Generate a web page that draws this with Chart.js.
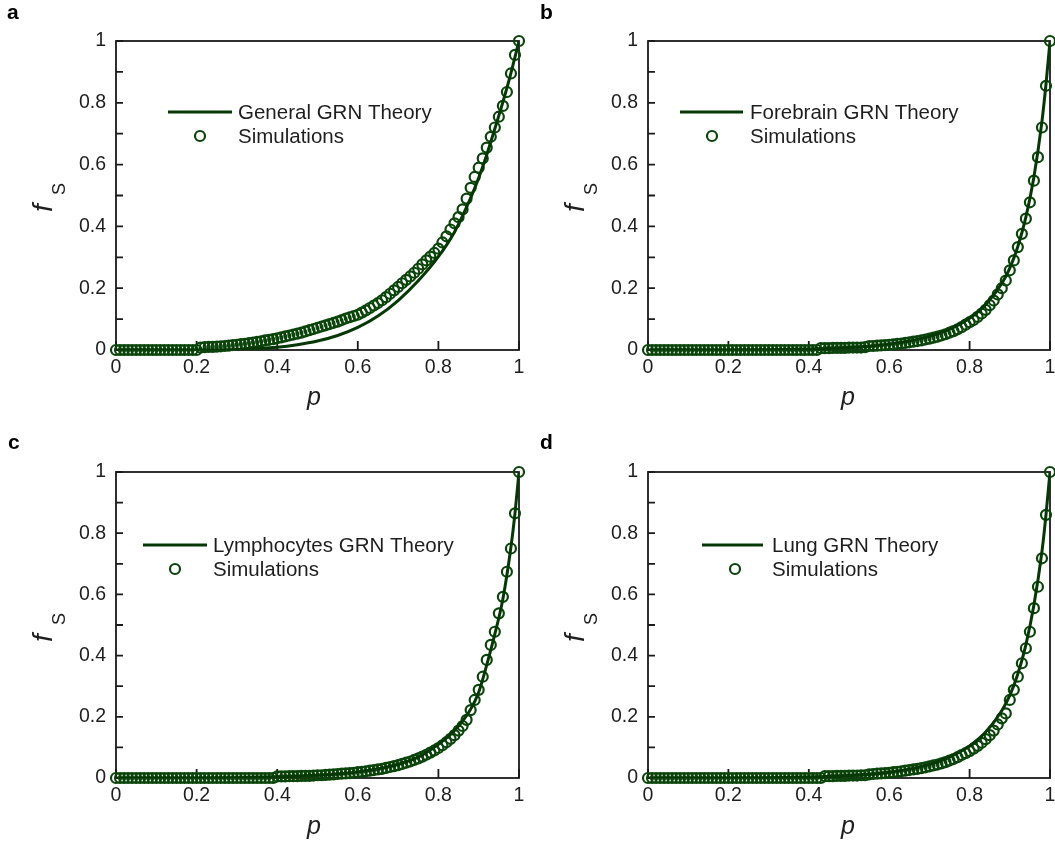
<!DOCTYPE html>
<html>
<head>
<meta charset="utf-8">
<script src="https://cdn.jsdelivr.net/npm/chart.js@4/dist/chart.umd.min.js"></script>
<style>
  html, body { margin: 0; padding: 0; background: #fff; }
  #fig { position: relative; width: 1055px; height: 846px; overflow: hidden; background: #fff; }
  #fig canvas { position: absolute; }
</style>
</head>
<body>
<div id="fig">
  <canvas id="pa" width="527" height="423" style="left:0;top:0"></canvas>
  <canvas id="pb" width="528" height="423" style="left:527px;top:0"></canvas>
  <canvas id="pc" width="527" height="423" style="left:0;top:423px"></canvas>
  <canvas id="pd" width="528" height="423" style="left:527px;top:423px"></canvas>
</div>
<script>
// Fraction of surviving states f_S versus p: theory curves and simulation runs.

// Simulation grid of p values
const pSim = [
  0.00, 0.01, 0.02, 0.03, 0.04, 0.05, 0.06, 0.07, 0.08, 0.09,
  0.10, 0.11, 0.12, 0.13, 0.14, 0.15, 0.16, 0.17, 0.18, 0.19,
  0.20, 0.21, 0.22, 0.23, 0.24, 0.25, 0.26, 0.27, 0.28, 0.29,
  0.30, 0.31, 0.32, 0.33, 0.34, 0.35, 0.36, 0.37, 0.38, 0.39,
  0.40, 0.41, 0.42, 0.43, 0.44, 0.45, 0.46, 0.47, 0.48, 0.49,
  0.50, 0.51, 0.52, 0.53, 0.54, 0.55, 0.56, 0.57, 0.58, 0.59,
  0.60, 0.61, 0.62, 0.63, 0.64, 0.65, 0.66, 0.67, 0.68, 0.69,
  0.70, 0.71, 0.72, 0.73, 0.74, 0.75, 0.76, 0.77, 0.78, 0.79,
  0.80, 0.81, 0.82, 0.83, 0.84, 0.85, 0.86, 0.87, 0.88, 0.89,
  0.90, 0.91, 0.92, 0.93, 0.94, 0.95, 0.96, 0.97, 0.98, 0.99,
  1.00
];

// Simulations, general GRN
const simGeneral = [
  0, 0, 0, 0, 0, 0, 0, 0, 0, 0,
  0, 0, 0, 0, 0, 0, 0, 0, 0, 0,
  0, 0.008, 0.009, 0.010, 0.010, 0.011, 0.012, 0.013, 0.014, 0.016,
  0.017, 0.019, 0.020, 0.022, 0.024, 0.026, 0.028, 0.031, 0.033, 0.035,
  0.038, 0.041, 0.044, 0.047, 0.050, 0.053, 0.056, 0.060, 0.064, 0.068,
  0.072, 0.076, 0.080, 0.084, 0.088, 0.092, 0.097, 0.102, 0.106, 0.110,
  0.114, 0.121, 0.128, 0.136, 0.144, 0.152, 0.161, 0.171, 0.182, 0.193,
  0.204, 0.216, 0.227, 0.238, 0.250, 0.263, 0.277, 0.290, 0.302, 0.314,
  0.328, 0.348, 0.368, 0.390, 0.410, 0.430, 0.455, 0.490, 0.525, 0.560,
  0.590, 0.620, 0.655, 0.690, 0.720, 0.755, 0.790, 0.835, 0.895, 0.955,
  1.000
];

// Simulations, forebrain GRN
const simForebrain = [
  0, 0, 0, 0, 0, 0, 0, 0, 0, 0,
  0, 0, 0, 0, 0, 0, 0, 0, 0, 0,
  0, 0, 0, 0, 0, 0, 0, 0, 0, 0,
  0, 0, 0, 0, 0, 0, 0, 0, 0, 0,
  0, 0, 0, 0.006, 0.006, 0.006, 0.007, 0.007, 0.007, 0.007,
  0.008, 0.008, 0.008, 0.008, 0.009, 0.013, 0.013, 0.014, 0.015, 0.016,
  0.017, 0.018, 0.020, 0.021, 0.023, 0.025, 0.027, 0.029, 0.031, 0.034,
  0.037, 0.040, 0.043, 0.047, 0.051, 0.056, 0.061, 0.067, 0.074, 0.082,
  0.090, 0.097, 0.107, 0.118, 0.130, 0.145, 0.160, 0.180, 0.200, 0.225,
  0.258, 0.290, 0.333, 0.376, 0.425, 0.478, 0.548, 0.624, 0.720, 0.855,
  1.000
];

// Simulations, lymphocytes GRN
const simLymphocytes = [
  0, 0, 0, 0, 0, 0, 0, 0, 0, 0,
  0, 0, 0, 0, 0, 0, 0, 0, 0, 0,
  0, 0, 0, 0, 0, 0, 0, 0, 0, 0,
  0, 0, 0, 0, 0, 0, 0, 0, 0, 0,
  0.005, 0.005, 0.005, 0.006, 0.006, 0.006, 0.007, 0.007, 0.007, 0.008,
  0.009, 0.009, 0.010, 0.011, 0.012, 0.013, 0.014, 0.015, 0.016, 0.017,
  0.019, 0.020, 0.022, 0.024, 0.026, 0.028, 0.030, 0.033, 0.036, 0.039,
  0.042, 0.046, 0.050, 0.054, 0.059, 0.064, 0.070, 0.076, 0.083, 0.090,
  0.098, 0.107, 0.117, 0.128, 0.140, 0.155, 0.170, 0.190, 0.222, 0.255,
  0.288, 0.331, 0.386, 0.435, 0.478, 0.538, 0.592, 0.674, 0.750, 0.865,
  1.000
];

// Simulations, lung GRN
const simLung = [
  0, 0, 0, 0, 0, 0, 0, 0, 0, 0,
  0, 0, 0, 0, 0, 0, 0, 0, 0, 0,
  0, 0, 0, 0, 0, 0, 0, 0, 0, 0,
  0, 0, 0, 0, 0, 0, 0, 0, 0, 0,
  0, 0, 0, 0, 0.006, 0.006, 0.006, 0.007, 0.007, 0.007,
  0.008, 0.008, 0.008, 0.009, 0.009, 0.012, 0.013, 0.014, 0.015, 0.016,
  0.017, 0.019, 0.020, 0.022, 0.024, 0.026, 0.028, 0.030, 0.032, 0.035,
  0.038, 0.041, 0.044, 0.048, 0.052, 0.057, 0.062, 0.068, 0.075, 0.081,
  0.088, 0.096, 0.105, 0.115, 0.127, 0.140, 0.155, 0.175, 0.195, 0.211,
  0.255, 0.288, 0.331, 0.375, 0.424, 0.478, 0.555, 0.625, 0.718, 0.860,
  1.000
];

// Theory curves, sampled on a coarser p grid
const pTheory = [0, 0.1, 0.2, 0.3, 0.4, 0.45, 0.5, 0.55, 0.6, 0.65, 0.7, 0.75, 0.8, 0.84, 0.88, 0.9, 0.92, 0.94, 0.96, 0.98, 0.99, 1];
const theoryGeneral     = [0, 0, 0, 0.002, 0.009, 0.017, 0.029, 0.047, 0.073, 0.110, 0.160, 0.224, 0.302, 0.382, 0.492, 0.557, 0.632, 0.716, 0.802, 0.896, 0.948, 1];
const theoryForebrain   = [0, 0, 0, 0.001, 0.003, 0.005, 0.008, 0.012, 0.019, 0.029, 0.044, 0.067, 0.103, 0.147, 0.215, 0.265, 0.335, 0.430, 0.560, 0.740, 0.860, 1];
const theoryLymphocytes = [0, 0, 0, 0.001, 0.004, 0.006, 0.009, 0.013, 0.020, 0.030, 0.045, 0.068, 0.110, 0.155, 0.225, 0.280, 0.370, 0.470, 0.585, 0.755, 0.865, 1];
const theoryLung        = [0, 0, 0, 0.001, 0.003, 0.005, 0.008, 0.012, 0.019, 0.029, 0.044, 0.068, 0.105, 0.150, 0.220, 0.270, 0.340, 0.435, 0.565, 0.740, 0.860, 1];

// Axis ticks
const xTickValues = [0, 0.2, 0.4, 0.6, 0.8, 1];
const yTickValues = [0, 0.1, 0.2, 0.3, 0.4, 0.5, 0.6, 0.7, 0.8, 0.9, 1];
const yTickLabels = ['0', '0.2', '0.4', '0.6', '0.8', '1'];

const theoryNames = ['General GRN Theory', 'Forebrain GRN Theory', 'Lymphocytes GRN Theory', 'Lung GRN Theory'];
const panelLetters = ['a', 'b', 'c', 'd'];
const simLabel = 'Simulations';

const LINE_COLOR = '#063806';
const MARK_COLOR = '#0b450b';
const TEXT_COLOR = '#1e1e1e';
const AXIS_COLOR = '#1a1a1a';
const FONT = '"Liberation Sans", Arial, Helvetica, sans-serif';

// Layout of each panel inside its own canvas
const layouts = [
  { id: 'pa', area: { l: 116, t: 41, r: 519, b: 350 }, letter: { x: 7, y: 19 },
    legend: { x1: 168, x2: 232, y: 112, cx: 200, cy: 136, tx: 238 }, xTitle: { x: 314, y: 398 }, yTitle: { x: 52, y: 212 } },
  { id: 'pb', area: { l: 121, t: 41, r: 523, b: 350 }, letter: { x: 13, y: 19 },
    legend: { x1: 153, x2: 216, y: 112, cx: 185, cy: 136, tx: 223 }, xTitle: { x: 321, y: 398 }, yTitle: { x: 57, y: 212 } },
  { id: 'pc', area: { l: 116, t: 49, r: 519, b: 355 }, letter: { x: 8, y: 26 },
    legend: { x1: 143, x2: 207, y: 122, cx: 175, cy: 146, tx: 213 }, xTitle: { x: 314, y: 404 }, yTitle: { x: 52, y: 219 } },
  { id: 'pd', area: { l: 121, t: 49, r: 523, b: 355 }, letter: { x: 13, y: 26 },
    legend: { x1: 175, x2: 236, y: 122, cx: 208, cy: 146, tx: 245 }, xTitle: { x: 321, y: 404 }, yTitle: { x: 57, y: 219 } }
];

const simSets = [simGeneral, simForebrain, simLymphocytes, simLung];
const theorySets = [theoryGeneral, theoryForebrain, theoryLymphocytes, theoryLung];

// Box frame and inward tick marks
const framePlugin = {
  id: 'frame',
  beforeDatasetsDraw(chart) {
    const { ctx, chartArea: a, scales: { x, y } } = chart;
    ctx.save();
    ctx.strokeStyle = AXIS_COLOR;
    ctx.lineWidth = 1.8;
    ctx.strokeRect(a.left, a.top, a.right - a.left, a.bottom - a.top);
    ctx.beginPath();
    x.ticks.forEach(t => {
      const px = x.getPixelForValue(t.value);
      ctx.moveTo(px, a.bottom);
      ctx.lineTo(px, a.bottom - 9);
    });
    y.ticks.forEach(t => {
      const py = y.getPixelForValue(t.value);
      ctx.moveTo(a.left, py);
      ctx.lineTo(a.left + 7, py);
    });
    ctx.stroke();
    ctx.restore();
  }
};

// Legend, axis titles and panel letter
const labelPlugin = {
  id: 'labels',
  afterDraw(chart, args, opts) {
    const { ctx } = chart;
    const L = opts.layout;
    ctx.save();
    // panel letter
    ctx.fillStyle = '#000';
    ctx.font = 'bold 21px ' + FONT;
    ctx.textAlign = 'left';
    ctx.textBaseline = 'alphabetic';
    ctx.fillText(opts.letter, L.letter.x, L.letter.y);

    // legend
    const g = L.legend;
    ctx.strokeStyle = LINE_COLOR;
    ctx.lineWidth = 3;
    ctx.beginPath();
    ctx.moveTo(g.x1, g.y);
    ctx.lineTo(g.x2, g.y);
    ctx.stroke();
    ctx.strokeStyle = MARK_COLOR;
    ctx.lineWidth = 2.2;
    ctx.beginPath();
    ctx.arc(g.cx, g.cy, 5, 0, Math.PI * 2);
    ctx.stroke();
    ctx.fillStyle = TEXT_COLOR;
    ctx.font = '20.5px ' + FONT;
    ctx.textBaseline = 'middle';
    ctx.fillText(opts.name, g.tx, g.y + 1);
    ctx.fillText(simLabel, g.tx, g.cy + 1);

    // x title
    ctx.font = 'italic 25px ' + FONT;
    ctx.textAlign = 'center';
    ctx.textBaseline = 'middle';
    ctx.fillText('p', L.xTitle.x, L.xTitle.y);

    // y title: f with subscript S, rotated
    ctx.translate(L.yTitle.x, L.yTitle.y);
    ctx.rotate(-Math.PI / 2);
    ctx.textAlign = 'left';
    ctx.textBaseline = 'alphabetic';
    ctx.font = 'italic 28px ' + FONT;
    ctx.fillText('f', 0, 0);
    ctx.font = '18px ' + FONT;
    ctx.fillText('S', 17, 13);
    ctx.restore();
  }
};

layouts.forEach((L, i) => {
  const canvas = document.getElementById(L.id);
  const W = canvas.width, H = canvas.height;
  const sims = pSim.map((p, k) => ({ x: p, y: simSets[i][k] }));
  const theory = pTheory.map((p, k) => ({ x: p, y: theorySets[i][k] }));

  new Chart(canvas, {
    type: 'scatter',
    data: {
      datasets: [
        {
          label: theoryNames[i],
          data: theory,
          showLine: true,
          borderColor: LINE_COLOR,
          borderWidth: 3,
          pointRadius: 0,
          cubicInterpolationMode: 'monotone',
          order: 0
        },
        {
          label: simLabel,
          data: sims,
          showLine: false,
          pointStyle: 'circle',
          pointRadius: 5,
          pointBorderWidth: 2.2,
          pointBorderColor: MARK_COLOR,
          pointBackgroundColor: 'rgba(0,0,0,0)',
          clip: false,
          order: 1
        }
      ]
    },
    options: {
      responsive: false,
      devicePixelRatio: 1,
      animation: false,
      events: [],
      layout: { autoPadding: false, padding: { left: 0, top: L.area.t, right: W - L.area.r, bottom: 0 } },
      plugins: {
        legend: { display: false },
        tooltip: { enabled: false },
        labels: { layout: L, letter: panelLetters[i], name: theoryNames[i] }
      },
      scales: {
        x: {
          type: 'linear',
          min: 0, max: 1,
          grid: { display: false, drawTicks: false },
          border: { display: false },
          afterBuildTicks: s => { s.ticks = xTickValues.map(v => ({ value: v })); },
          afterFit: s => { s.height = H - L.area.b; s.paddingLeft = 0; s.paddingRight = 0; },
          ticks: {
            padding: 6,
            color: TEXT_COLOR,
            font: { family: FONT, size: 19.5 },
            maxRotation: 0,
            callback: v => String(+v.toFixed(1))
          }
        },
        y: {
          type: 'linear',
          min: 0, max: 1,
          grid: { display: false, drawTicks: false },
          border: { display: false },
          afterBuildTicks: s => { s.ticks = yTickValues.map(v => ({ value: v })); },
          afterFit: s => { s.width = L.area.l; s.paddingTop = 0; s.paddingBottom = 0; },
          ticks: {
            padding: 10,
            color: TEXT_COLOR,
            font: { family: FONT, size: 19.5 },
            callback: v => {
              const k = Math.round(v * 10);
              return k % 2 === 0 ? yTickLabels[k / 2] : '';
            }
          }
        }
      }
    },
    plugins: [framePlugin, labelPlugin]
  });
});
</script>
</body>
</html>
